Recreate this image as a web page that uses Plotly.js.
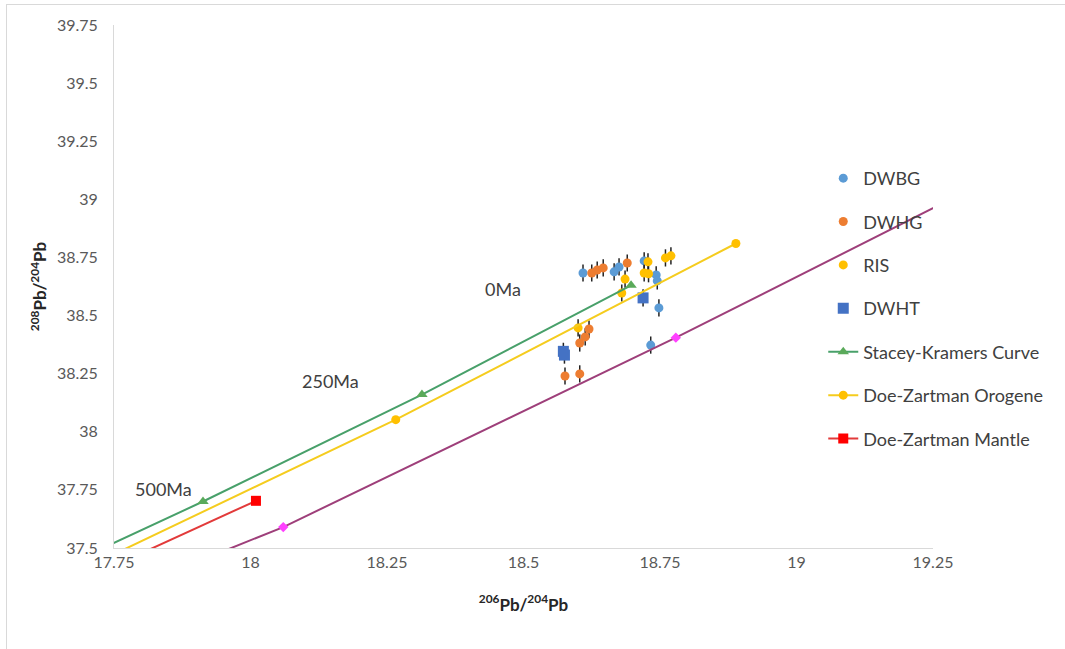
<!DOCTYPE html>
<html>
<head>
<meta charset="utf-8">
<script src="https://cdn.plot.ly/plotly-3.0.1.min.js"></script>
<style>
  html, body { margin:0; padding:0; background:#fff; }
  #wrap { position:relative; width:1065px; height:649px; overflow:hidden; }
  #chart { position:absolute; left:0; top:0; width:1065px; height:649px; }
  #frame { position:absolute; left:6px; top:4px; width:1070px; height:660px; border-left:1px solid #d9d9d9; border-top:1px solid #d9d9d9; pointer-events:none; }
</style>
</head>
<body>
<div id="wrap"><div id="chart"></div><div id="frame"></div></div>
<script>
// ---- data ----
const dwbgX = [18.609, 18.666, 18.675, 18.721, 18.743, 18.745, 18.748, 18.733];
const dwbgY = [38.683, 38.688, 38.709, 38.735, 38.675, 38.649, 38.533, 38.373];

const dwhgX = [18.625, 18.635, 18.646, 18.690, 18.620, 18.613, 18.603, 18.576, 18.603];
const dwhgY = [38.683, 38.696, 38.705, 38.726, 38.442, 38.408, 38.382, 38.240, 38.249];

const risX = [18.686, 18.680, 18.728, 18.721, 18.729, 18.760, 18.770, 18.600];
const risY = [38.657, 38.597, 38.731, 38.683, 38.680, 38.748, 38.757, 38.447];

const dwhtX = [18.719, 18.573, 18.575];
const dwhtY = [38.576, 38.346, 38.330];

const skX = [17.52, 17.913, 18.314, 18.697];
const skY = [37.27, 37.70, 38.16, 38.63];

const dzoX = [17.60, 18.266, 18.889];
const dzoY = [37.305, 38.052, 38.81];

const dzmX = [17.70, 18.010];
const dzmY = [37.37, 37.703];

const purpleX = [17.88, 18.06, 18.779, 19.35];
const purpleY = [37.42, 37.59, 38.405, 39.08];

const errY = 0.037;

const ageLabels = ['0Ma', '250Ma', '500Ma'];
const ageX = [18.462, 18.146, 17.840];
const ageY = [38.616, 38.219, 37.754];

const xTickVals = [17.75, 18, 18.25, 18.5, 18.75, 19, 19.25];
const xTickText = ['17.75', '18', '18.25', '18.5', '18.75', '19', '19.25'];
const yTickVals = [37.5, 37.75, 38, 38.25, 38.5, 38.75, 39, 39.25, 39.5, 39.75];
const yTickText = ['37.5', '37.75', '38', '38.25', '38.5', '38.75', '39', '39.25', '39.5', '39.75'];

// ---- traces ----
function errBars(n){ return {type:'data', array:new Array(n).fill(errY), visible:true, width:0, thickness:1.5, color:'#222'}; }

const traces = [
  {name:'DWBG', x:dwbgX, y:dwbgY, mode:'markers', type:'scatter', legendgroup:'a',
   marker:{color:'#5B9BD5', size:9, symbol:'circle'}, error_y:errBars(dwbgX.length)},
  {name:'DWHG', x:dwhgX, y:dwhgY, mode:'markers', type:'scatter', legendgroup:'b',
   marker:{color:'#ED7D31', size:9, symbol:'circle'}, error_y:errBars(dwhgX.length)},
  {name:'RIS', x:risX, y:risY, mode:'markers', type:'scatter', legendgroup:'c',
   marker:{color:'#FFC000', size:9, symbol:'circle'}, error_y:errBars(risX.length)},
  {name:'DWHT', x:dwhtX, y:dwhtY, mode:'markers', type:'scatter', legendgroup:'d',
   marker:{color:'#4472C4', size:11, symbol:'square'}, error_y:errBars(dwhtX.length)},
  {name:'Stacey-Kramers Curve', x:skX, y:skY, mode:'lines+markers', type:'scatter', legendgroup:'e',
   line:{color:'#48A06A', width:2}, marker:{color:'#5AAA5A', size:10, symbol:'triangle-up'}},
  {name:'Doe-Zartman Orogene', x:dzoX, y:dzoY, mode:'lines+markers', type:'scatter', legendgroup:'f',
   line:{color:'#F5CC1E', width:2}, marker:{color:'#FFC000', size:9, symbol:'circle'}},
  {name:'Doe-Zartman Mantle', x:dzmX, y:dzmY, mode:'lines+markers', type:'scatter', legendgroup:'g',
   line:{color:'#E23A3A', width:2}, marker:{color:'#FF0000', size:10, symbol:'square'}},
  {name:'Mantle', x:purpleX, y:purpleY, mode:'lines+markers', type:'scatter', showlegend:false,
   line:{color:'#9E3F7A', width:2}, marker:{color:'#FF40FF', size:8, symbol:'diamond'}}
];

const annotations = ageLabels.map((t, i) => ({
  text:t, x:ageX[i], y:ageY[i], xref:'x', yref:'y', showarrow:false,
  font:{size:18, color:'#404040', family:'Lato, sans-serif'}
}));

const layout = {
  width:1065, height:649,
  margin:{l:114, r:132, t:25, b:101},
  paper_bgcolor:'#ffffff', plot_bgcolor:'#ffffff',
  font:{family:'Lato, sans-serif', color:'#595959', size:16},
  showlegend:true,
  legend:{x:0.866, xanchor:'left', y:0.742, yanchor:'top', font:{size:18, color:'#404040'},
          tracegroupgap:17, bgcolor:'rgba(0,0,0,0)', itemwidth:30},
  xaxis:{range:[17.75, 19.25], tickmode:'array', tickvals:xTickVals, ticktext:xTickText,
         showgrid:false, zeroline:false, showline:true, linecolor:'#d9d9d9', linewidth:1, ticks:'',
         tickfont:{size:16, color:'#595959'},
         title:{text:'<b><sup>206</sup>Pb/<sup>204</sup>Pb</b>', font:{size:17, color:'#262626'}, standoff:28}},
  yaxis:{range:[37.5, 39.75], tickmode:'array', tickvals:yTickVals, ticktext:yTickText,
         showgrid:false, zeroline:false, showline:true, linecolor:'#d9d9d9', linewidth:1, ticks:'',
         ticklabelstandoff:12, tickfont:{size:16, color:'#595959'},
         title:{text:'<b><sup>208</sup>Pb/<sup>204</sup>Pb</b>', font:{size:17, color:'#262626'}, standoff:5}},
  annotations:annotations
};

Plotly.newPlot('chart', traces, layout, {displayModeBar:false, staticPlot:true});
</script>
</body>
</html>
